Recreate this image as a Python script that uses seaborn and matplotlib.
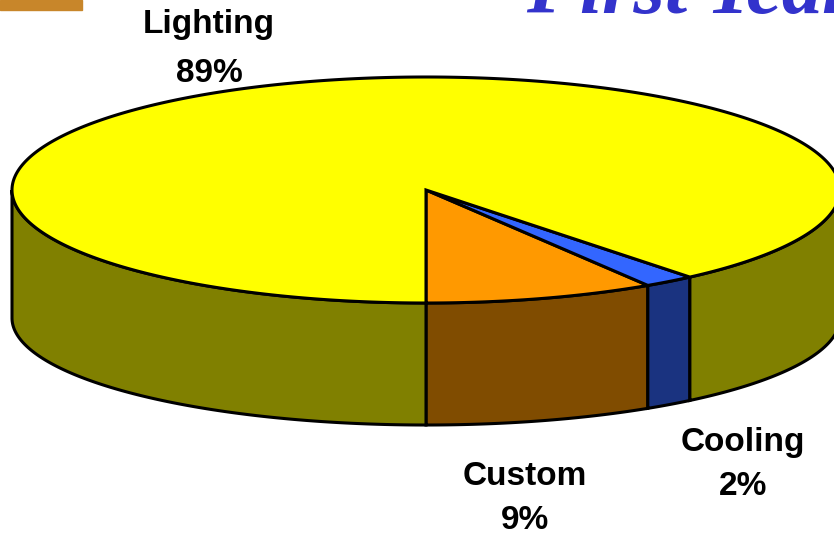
import numpy as np
import matplotlib.pyplot as plt
import seaborn as sns
from matplotlib.patches import Rectangle

# pie data (drawn counter-clockwise starting at the front)
labels = ['Custom', 'Cooling', 'Lighting']
values = [9, 2, 89]
pct_text = ['9%', '2%', '89%']
top_colors = ['#FF9900', '#3366FF', '#FFFF00']
side_colors = ['#804C00', '#1A3380', '#808000']
title = 'First Year'

sns.set_theme(style='white')
plt.rcParams['font.family'] = ['Liberation Sans', 'DejaVu Sans']

fig = plt.figure(figsize=(8.34, 5.33), dpi=100)
ax = fig.add_axes([0, 0, 1, 1])
ax.set_xlim(0, 834)
ax.set_ylim(533, 0)
ax.axis('off')

# ellipse geometry of the 3d pie (pixel space)
cx, cy, rx, ry = 426, 190, 414, 113
bcy, bry = 318, 107


def top_pt(t):
    return cx + rx * np.cos(t), cy - ry * np.sin(t)


def bot_pt(t):
    return cx + rx * np.cos(t), bcy - bry * np.sin(t)


fracs = np.array(values) / sum(values)
bounds = -90 + 360 * np.concatenate([[0], np.cumsum(fracs)])

for i in range(len(values)):
    a0, a1 = bounds[i], bounds[i + 1]
    # visible front side of the slice
    for k0, k1 in [(-180, 0), (180, 360)]:
        lo, hi = max(a0, k0), min(a1, k1)
        if hi > lo:
            ts = np.radians(np.linspace(lo, hi, 300))
            xt, yt = top_pt(ts)
            xb, yb = bot_pt(ts)
            ax.fill(np.r_[xt, xb[::-1]], np.r_[yt, yb[::-1]],
                    fc=side_colors[i], ec='black', lw=2.2, zorder=2)
    # top face
    t = np.radians(np.linspace(a0, a1, 600))
    xt, yt = top_pt(t)
    ax.fill(np.r_[cx, xt], np.r_[cy, yt], fc=top_colors[i], ec='black',
            lw=2.2, zorder=3)

# labels: (x center, name baseline, percent baseline)
label_pos = [(525, 485, 529), (743, 451, 495), (209, 33, 82)]
for (x, y1, y2), name, pct in zip(label_pos, labels, pct_text):
    ax.text(x, y1, name, ha='center', va='baseline', fontsize=24,
            fontweight='bold', color='black')
    ax.text(x, y2, pct, ha='center', va='baseline', fontsize=24,
            fontweight='bold', color='black')

ax.text(526, 13, title, ha='left', va='baseline', fontsize=58,
        fontfamily='Liberation Serif', fontstyle='italic', fontweight='bold',
        color='#3333CC', clip_on=False)

ax.add_patch(Rectangle((0, 0), 82, 10, color='#C8862A', zorder=1))

fig.savefig('out.png', dpi=100)
